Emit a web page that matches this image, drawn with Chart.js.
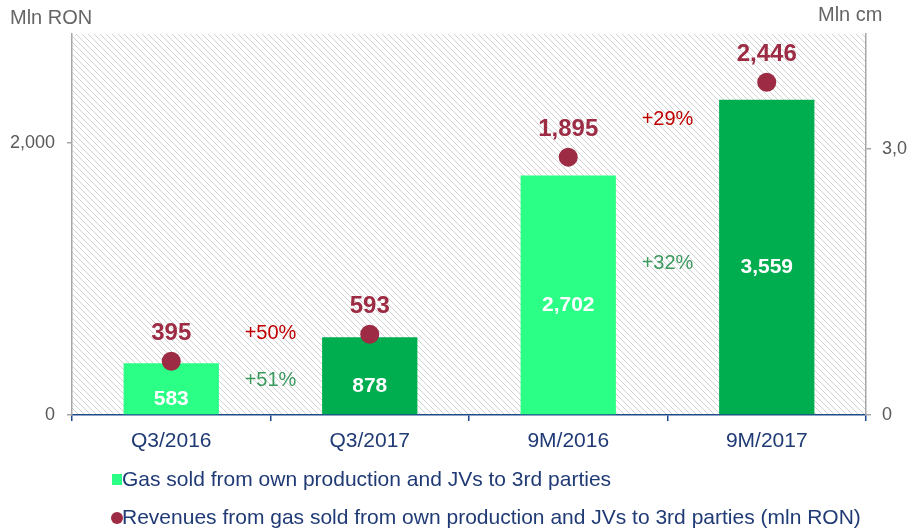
<!DOCTYPE html>
<html>
<head>
<meta charset="utf-8">
<script src="https://cdn.jsdelivr.net/npm/chart.js@4.4.0/dist/chart.umd.min.js"></script>
<style>
  html, body { margin: 0; padding: 0; background: #fff; }
  #wrap { width: 907px; height: 529px; position: relative; }
</style>
</head>
<body>
<div id="wrap"><canvas id="chart"></canvas></div>
<script>
const categories = ['Q3/2016', 'Q3/2017', '9M/2016', '9M/2017'];
const gasSold = [583, 878, 2702, 3559];          // mln cm, right axis
const revenues = [395, 593, 1895, 2446];         // mln RON, left axis
const leftTicks = [0, 2000];
const rightTicks = [0, 3000];
// growth labels: text, position between categories, height in mln RON
const growthText = ['+50%', '+51%', '+32%', '+29%'];
const growthAt = [0.5, 0.5, 2.5, 2.5];
const growthY = [600, 255, 1110, 2170];
const growthKind = ['rev', 'gas', 'gas', 'rev'];

const FONT = '"Liberation Sans", Arial, sans-serif';
const lightGreen = '#2BFF86';
const darkGreen = '#00AD4F';
const maroon = '#9D2B43';
const navy = '#1F3A75';

const hatch = (() => {
  const c = document.createElement('canvas');
  c.width = 6; c.height = 6;
  const g = c.getContext('2d');
  g.fillStyle = '#d2d2d2';
  for (let i = 0; i < 6; i++) g.fillRect(i, i, 1, 1);
  return c;
})();

const decor = {
  id: 'decor',
  beforeDraw(chart) {
    const { ctx, chartArea: a } = chart;
    ctx.save();
    ctx.fillStyle = ctx.createPattern(hatch, 'repeat');
    ctx.fillRect(a.left, a.top, a.right - a.left, a.bottom - a.top);
    ctx.restore();
  },
  afterDraw(chart) {
    const { ctx, scales } = chart;
    ctx.save();
    // axis units
    ctx.font = '20px ' + FONT;
    ctx.fillStyle = '#666';
    ctx.textBaseline = 'middle';
    ctx.textAlign = 'left';
    ctx.fillText('Mln RON', 10, 18);
    ctx.fillText('Mln cm', 818, 15);

    // bar values
    const bars = chart.getDatasetMeta(0).data;
    ctx.font = 'bold 21px ' + FONT;
    ctx.fillStyle = '#fff';
    ctx.textAlign = 'center';
    bars.forEach((b, i) => {
      ctx.fillText(gasSold[i].toLocaleString('en-US'), b.x, (b.y + b.base) / 2 + 10);
    });

    // point values
    const pts = chart.getDatasetMeta(1).data;
    ctx.font = 'bold 24px ' + FONT;
    ctx.fillStyle = maroon;
    pts.forEach((p, i) => {
      ctx.fillText(revenues[i].toLocaleString('en-US'), p.x, p.y - 28);
    });

    // growth labels
    ctx.font = '20px ' + FONT;
    growthText.forEach((t, i) => {
      ctx.fillStyle = growthKind[i] === 'rev' ? '#C00000' : '#3C9A5F';
      ctx.fillText(t, scales.x.getPixelForValue(growthAt[i]), scales.y.getPixelForValue(growthY[i]));
    });

    // legend
    ctx.textAlign = 'left';
    ctx.font = '21px ' + FONT;
    ctx.fillStyle = lightGreen;
    ctx.fillRect(112, 474, 10, 11);
    ctx.fillStyle = maroon;
    ctx.beginPath();
    ctx.arc(117, 518, 6, 0, Math.PI * 2);
    ctx.fill();
    ctx.fillStyle = navy;
    ctx.fillText('Gas sold from own production and JVs to 3rd parties', 122, 480);
    ctx.fillText('Revenues from gas sold from own production and JVs to 3rd parties (mln RON)', 122, 518);
    ctx.restore();
  }
};

new Chart(document.getElementById('chart'), {
  data: {
    labels: categories,
    datasets: [
      {
        type: 'bar',
        label: 'Gas sold from own production and JVs to 3rd parties',
        data: gasSold,
        yAxisID: 'y2',
        backgroundColor: [lightGreen, darkGreen, lightGreen, darkGreen],
        categoryPercentage: 1,
        barPercentage: 0.48,
        order: 2
      },
      {
        type: 'line',
        label: 'Revenues from gas sold from own production and JVs to 3rd parties (mln RON)',
        data: revenues,
        yAxisID: 'y',
        showLine: false,
        pointRadius: 9.5,
        pointHoverRadius: 9.5,
        pointBackgroundColor: maroon,
        pointBorderWidth: 0,
        order: 1
      }
    ]
  },
  options: {
    responsive: true,
    maintainAspectRatio: false,
    animation: false,
    layout: { padding: { top: 34, left: 0, right: 0, bottom: 0 } },
    plugins: { legend: { display: false }, tooltip: { enabled: false } },
    scales: {
      x: {
        offset: true,
        grid: {
          display: true, drawOnChartArea: false, offset: true,
          tickLength: 6, color: '#1F4A8A', lineWidth: 1.5
        },
        border: { color: '#1F4A8A', width: 1.5 },
        ticks: { color: navy, font: { family: FONT, size: 21 }, padding: 8 },
        afterFit(s) { s.height = 114; }
      },
      y: {
        position: 'left',
        min: 0, max: 2800,
        afterBuildTicks(s) { s.ticks = leftTicks.map(v => ({ value: v })); },
        grid: { drawOnChartArea: false, tickLength: 5, color: '#a6a6a6', lineWidth: 1.5 },
        border: { color: '#a6a6a6', width: 1.5 },
        ticks: {
          color: '#595959', font: { family: FONT, size: 18 }, padding: 12,
          callback: v => v.toLocaleString('en-US')
        },
        afterFit(s) { s.width = 72; }
      },
      y2: {
        position: 'right',
        min: 0, max: 4300,
        afterBuildTicks(s) { s.ticks = rightTicks.map(v => ({ value: v })); },
        grid: { drawOnChartArea: false, tickLength: 5, color: '#a6a6a6', lineWidth: 1.5 },
        border: { color: '#a6a6a6', width: 1.5 },
        ticks: {
          color: '#595959', font: { family: FONT, size: 18 }, padding: 11,
          callback: v => v.toLocaleString('en-US')
        },
        afterFit(s) { s.width = 41; }
      }
    }
  },
  plugins: [decor]
});
</script>
</body>
</html>
